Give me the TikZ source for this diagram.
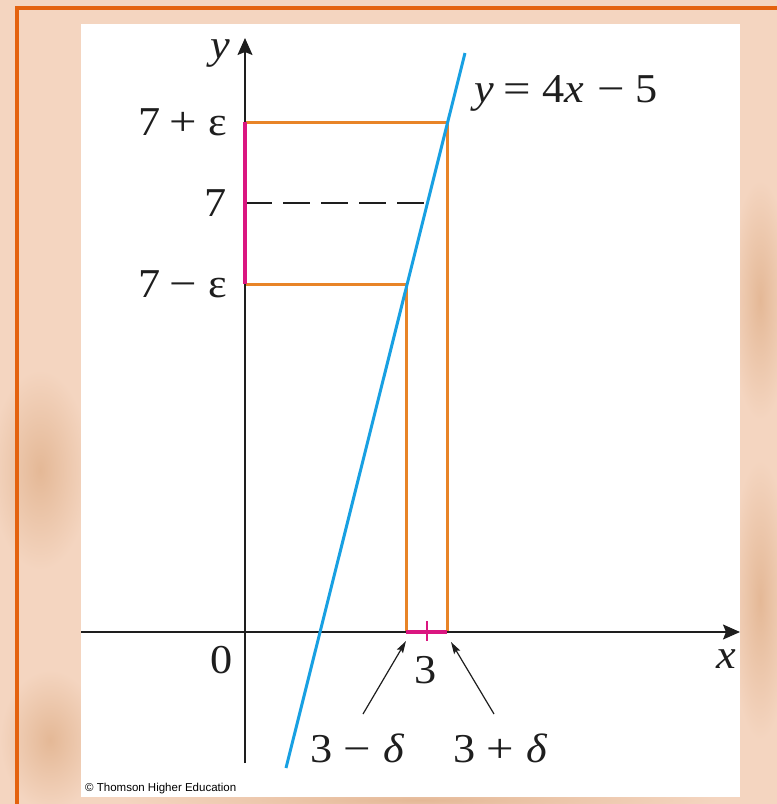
\documentclass[tikz,border=0pt]{standalone}
\usepackage{graphicx}
\usepackage{fontspec}
\setmainfont{Liberation Serif}[FakeStretch=1.08]
\newfontfamily\copyf{Liberation Sans}
\usetikzlibrary{arrows.meta}
\newcommand{\myplus}{\scalebox{1.1}[1]{+}}
\newcommand{\myminus}{\scalebox{1.1}[1]{−}}
\newcommand{\myeq}{\scalebox{1.1}[1]{=}}
\definecolor{peach}{RGB}{244,213,192}
\definecolor{peachdark}{RGB}{228,184,150}
\definecolor{frameorange}{RGB}{228,98,14}
\definecolor{boxorange}{RGB}{232,132,40}
\definecolor{magentaline}{RGB}{218,22,128}
\definecolor{blueline}{RGB}{24,160,226}
\definecolor{axisgray}{RGB}{30,30,30}
\tikzset{
  axisline/.style={draw=axisgray, line width=1.5pt, -{Stealth[length=17pt,width=15pt,inset=3pt]}},
  boxline/.style={draw=boxorange, line width=3pt},
  magline/.style={draw=magentaline, line width=3.2pt},
  graphline/.style={draw=blueline, line width=3pt},
  dashline/.style={draw=axisgray, line width=1.6pt, dash pattern=on 27pt off 11pt},
  pointer/.style={draw=axisgray, line width=1.2pt, -{Stealth[length=12pt,width=7pt,inset=2pt]}},
  lbl/.style={inner sep=0pt, text=axisgray, font=\fontsize{41}{49}\selectfont},
  copylbl/.style={inner sep=0pt, text=black, font=\copyf\fontsize{11.5}{14}\selectfont},
  blob/.style={inner color=peachdark, outer color=peach}
}
\begin{document}
\begin{tikzpicture}[x=1pt,y=-1pt]
\useasboundingbox (0,0) rectangle (777,804);
% background
\fill[peach] (0,0) rectangle (777,804);
\shade[blob] (40,470) ellipse (50 and 100);
\shade[blob] (50,740) ellipse (50 and 70);
\shade[blob] (760,300) ellipse (30 and 120);
\shade[blob] (760,600) ellipse (30 and 140);
\shade[blob] (420,800) ellipse (300 and 14);
% white panel
\fill[white] (81,24) rectangle (740,797);
% frame
\draw[frameorange, line width=4pt] (17,804) -- (17,8) -- (777,8);

% key points
\coordinate (xl) at (81,632);
\coordinate (xr) at (740,632);
\coordinate (yb) at (245,763);
\coordinate (yt) at (245,38);
\coordinate (Yp) at (245,122);
\coordinate (Y7) at (245,203);
\coordinate (Ym) at (245,284);
\coordinate (P7) at (427,203);
\coordinate (A) at (447,122);
\coordinate (B) at (406,284);
\coordinate (Ax) at (447,632);
\coordinate (Bx) at (406,632);
\coordinate (T3a) at (427,621);
\coordinate (T3b) at (427,641);
\coordinate (Lb) at (286,768);
\coordinate (Lt) at (465,53);
\coordinate (PA) at (406,641);
\coordinate (PB) at (451,642);

% orange box lines
\draw[boxline] (Yp) -- (A) -- (Ax);
\draw[boxline] (Ym) -- (B) -- (Bx);
% dashed line at 7
\draw[dashline] (Y7) -- (P7);
% axes
\draw[axisline] (xl) -- (xr);
\draw[axisline] (yb) -- (yt);
% magenta intervals
\draw[magline] (Yp) -- (Ym);
\draw[magline] (Bx) -- (Ax);
\draw[draw=magentaline, line width=2.5pt] (T3a) -- (T3b);
% graph line
\draw[graphline] (Lb) -- (Lt);

% labels
\node[lbl, anchor=base east] (l7p) at (227,135) {7\hspace{9.5pt}\myplus\hspace{11pt}ε};
\node[lbl, anchor=base east] (l7) at (227,216) {7};
\node[lbl, anchor=base east] (l7m) at (227,297) {7\hspace{9.5pt}\myminus\hspace{11pt}ε};
\node[lbl, anchor=base] (ly) at (220,58) {\textit{y}};
\node[lbl, anchor=base west] (leq) at (474,102) {\textit{y}\hspace{10pt}\myeq\hspace{11pt}4\textit{x}\hspace{13pt}\myminus\hspace{11pt}5};
\node[lbl, anchor=base] (l0) at (222,673) {0};
\node[lbl, anchor=base] (lx) at (726,668) {\textit{x}};
\node[lbl, anchor=base] (l3) at (426,683) {3};
\node[lbl, anchor=base west] (l3m) at (310,762) {3\hspace{11pt}\myminus\hspace{13pt}\textit{δ}};
\node[lbl, anchor=base west] (l3p) at (453,762) {3\hspace{11pt}\myplus\hspace{13pt}\textit{δ}};
\node[copylbl, anchor=base west] (copy) at (85,791) {© Thomson Higher Education};

% pointers
\coordinate (tA) at (363,714);
\coordinate (tB) at (494,714);
\draw[pointer] (tA) -- (PA);
\draw[pointer] (tB) -- (PB);
\end{tikzpicture}
\end{document}
